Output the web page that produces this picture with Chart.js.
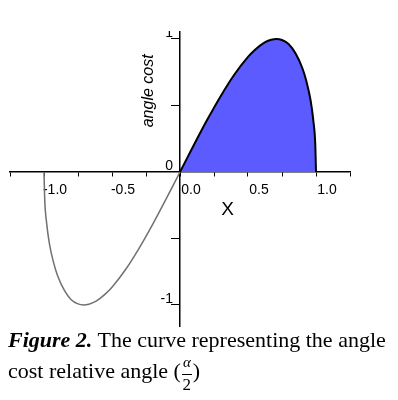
<!DOCTYPE html>
<html>
<head>
<meta charset="utf-8">
<script src="https://cdn.jsdelivr.net/npm/chart.js@4"></script>
<style>
  html, body { margin: 0; padding: 0; background: #fff; }
  #wrap { position: relative; width: 398px; height: 400px; overflow: hidden; }
  #cv { position: absolute; left: 0; top: 31px; }
  #caption { position: absolute; left: 8px; top: 326px; width: 398px;
    font-family: "Liberation Serif", "Times New Roman", serif; font-size: 22px;
    line-height: 28px; color: #000; white-space: nowrap; }
  .frac { display: inline-block; vertical-align: -12px; text-align: center; margin: 0 1px; }
  .frac .num { display: block; font-size: 15px; line-height: 16px; padding: 0 1px 4px 1px;
    border-bottom: 1.3px solid #000; font-style: italic; }
  .frac .den { display: block; font-size: 17px; line-height: 19px; }
</style>
</head>
<body>
<div id="wrap">
  <canvas id="cv" width="398" height="300"></canvas>
  <div id="caption"><b><i>Figure 2.</i></b> The curve representing the angle<br>cost relative angle (<span class="frac"><span class="num">α</span><span class="den">2</span></span>)</div>
</div>
<script>
// ---- data ----
const negX = [-1.0, -0.995, -0.98, -0.96, -0.93, -0.9, -0.85, -0.8, -0.75, -0.71, -0.67, -0.62, -0.55, -0.5, -0.4, -0.3, -0.2, -0.1, 0.0];
const negY = [0.0, -0.20, -0.39, -0.54, -0.68, -0.78, -0.89, -0.96, -0.992, -1.0, -0.994, -0.973, -0.918, -0.866, -0.733, -0.572, -0.392, -0.199, 0.0];
const posX = [0.0, 0.1, 0.2, 0.3, 0.4, 0.5, 0.55, 0.62, 0.67, 0.71, 0.75, 0.8, 0.85, 0.9, 0.93, 0.96, 0.98, 0.995, 1.0];
const posY = [0.0, 0.199, 0.392, 0.572, 0.733, 0.866, 0.918, 0.973, 0.994, 1.0, 0.992, 0.96, 0.89, 0.78, 0.68, 0.54, 0.39, 0.20, 0.0];
const xTicks = [-1.25, -1.0, -0.75, -0.5, -0.25, 0.0, 0.25, 0.5, 0.75, 1.0, 1.25];
const xTickLabels = ['', '-1.0', '', '-0.5', '', '0.0', '', '0.5', '', '1.0', ''];
const yTicks = [-1, -0.5, 0, 0.5, 1];
const yTickLabels = ['-1', '', '0', '', '1'];
const xTitle = 'X';
const yTitle = 'angle cost';

const sans = '"Liberation Sans", Arial, sans-serif';
const tickFont = { family: sans, size: 14 };

const titlePlugin = {
  id: 'titles',
  afterDraw(chart) {
    const { ctx, scales: { x, y } } = chart;
    const x0 = x.getPixelForValue(0);
    ctx.save();
    ctx.fillStyle = '#000';
    // y tick labels (left of the tick marks)
    ctx.font = '14px ' + sans;
    ctx.textAlign = 'right';
    ctx.textBaseline = 'middle';
    yTicks.forEach((v, i) => {
      if (yTickLabels[i]) ctx.fillText(yTickLabels[i], x0 - 7, y.getPixelForValue(v) - 6);
    });
    // axis titles
    ctx.textAlign = 'center';
    ctx.font = '19px ' + sans;
    ctx.fillText(xTitle, x.getPixelForValue(0.35), y.getPixelForValue(0) + 38);
    ctx.translate(x0 - 31, y.getPixelForValue(0.61));
    ctx.rotate(-Math.PI / 2);
    ctx.font = 'italic 16px ' + sans;
    ctx.fillText(yTitle, 0, 0);
    ctx.restore();
  }
};

new Chart(document.getElementById('cv'), {
  type: 'scatter',
  data: {
    datasets: [
      {
        data: posX.map((v, i) => ({ x: v, y: posY[i] })),
        showLine: true,
        borderColor: '#000',
        borderWidth: 2,
        backgroundColor: '#5b5bff',
        fill: 'origin',
        pointRadius: 0,
        cubicInterpolationMode: 'monotone'
      },
      {
        data: negX.map((v, i) => ({ x: v, y: negY[i] })),
        showLine: true,
        borderColor: '#707070',
        borderWidth: 1.5,
        fill: false,
        pointRadius: 0,
        cubicInterpolationMode: 'monotone'
      }
    ]
  },
  options: {
    responsive: false,
    animation: false,
    layout: { padding: { left: 10, right: 48, top: 0, bottom: 5 } },
    plugins: { legend: { display: false }, tooltip: { enabled: false } },
    scales: {
      x: {
        type: 'linear',
        min: -1.25, max: 1.25,
        position: { y: 0 },
        afterBuildTicks: s => { s.ticks = xTicks.map(v => ({ value: v })); },
        ticks: {
          callback: (v, i) => xTickLabels[i],
          font: tickFont, color: '#000',
          autoSkip: false, maxRotation: 0, padding: 6, labelOffset: 11
        },
        grid: { drawOnChartArea: false, drawTicks: true, tickLength: 4, color: '#000', lineWidth: 1 },
        border: { display: true, color: '#000', width: 1.5 }
      },
      y: {
        type: 'linear',
        min: -1.158, max: 1.06,
        position: { x: 0 },
        afterBuildTicks: s => { s.ticks = yTicks.map(v => ({ value: v })); },
        ticks: { display: false },
        grid: { drawOnChartArea: false, drawTicks: true, tickLength: 8, color: '#000', lineWidth: 1 },
        border: { display: true, color: '#000', width: 1.5 }
      }
    }
  },
  plugins: [titlePlugin]
});
</script>
</body>
</html>
